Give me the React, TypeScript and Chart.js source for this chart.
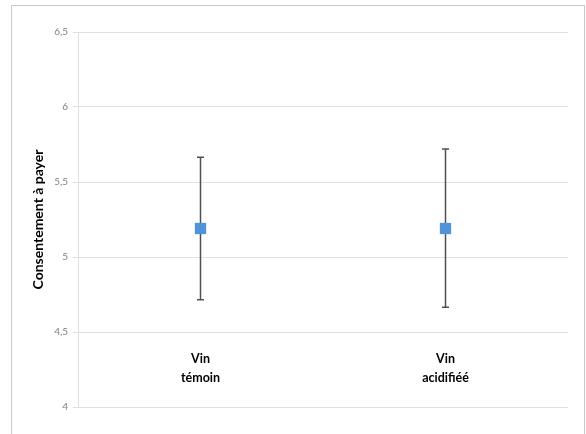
import React, { useEffect, useRef } from "react";
import { Chart, registerables } from "chart.js";

Chart.register(...registerables);

const categories: string[][] = [["Vin", "témoin"], ["Vin", "acidifiéé"]];
const means: number[] = [5.19, 5.19];
const upper: number[] = [5.665, 5.72];
const lower: number[] = [4.715, 4.665];
const yTicks: number[] = [4, 4.5, 5, 5.5, 6, 6.5];
const yTitle = "Consentement à payer";

const errorBars = {
  id: "errorBars",
  beforeDatasetsDraw(chart: any) {
    const ctx = chart.ctx;
    const xs = chart.scales.x;
    const ys = chart.scales.y;
    ctx.save();
    ctx.strokeStyle = "#505050";
    ctx.lineWidth = 1.5;
    for (let i = 0; i < means.length; i++) {
      const x = xs.getPixelForValue(i);
      const yt = ys.getPixelForValue(upper[i]);
      const yb = ys.getPixelForValue(lower[i]);
      ctx.beginPath();
      ctx.moveTo(x, yt);
      ctx.lineTo(x, yb);
      ctx.moveTo(x - 3.5, yt);
      ctx.lineTo(x + 3.5, yt);
      ctx.moveTo(x - 3.5, yb);
      ctx.lineTo(x + 3.5, yb);
      ctx.stroke();
    }
    ctx.restore();
  },
};

export default function App() {
  const ref = useRef<HTMLCanvasElement>(null);
  useEffect(() => {
    if (!ref.current) return;
    const chart = new Chart(ref.current, {
      type: "line",
      data: {
        labels: categories as any,
        datasets: [
          {
            data: means,
            showLine: false,
            pointStyle: "rect",
            pointRadius: 8,
            pointBackgroundColor: "#4F94D8",
            pointBorderColor: "#4F94D8",
            pointBorderWidth: 0,
          },
        ],
      },
      options: {
        responsive: false,
        animation: false,
        events: [],
        layout: { padding: { left: 0, top: 32, right: 18, bottom: 27 } },
        plugins: { legend: { display: false }, tooltip: { enabled: false } },
        scales: {
          x: {
            type: "category",
            offset: true,
            position: { y: 4.5 } as any,
            grid: { display: false, drawTicks: false },
            border: { display: false },
            ticks: {
              padding: 18,
              color: "#000000",
              font: { family: "Lato", size: 12.5, weight: "bold", lineHeight: 1.5 },
              maxRotation: 0,
            },
          },
          y: {
            min: 4,
            max: 6.5,
            afterFit(scale: any) {
              scale.width = 78;
            },
            afterBuildTicks(scale: any) {
              scale.ticks = yTicks.map((v) => ({ value: v }));
            },
            grid: { color: "#e0e0e0", tickLength: 5, lineWidth: 1 },
            border: { display: true, color: "#e0e0e0" },
            ticks: {
              padding: 5,
              color: "#7f7f7f",
              font: { family: "Lato", size: 10 },
              callback: (v: any) => String(v).replace(".", ","),
            },
            title: {
              display: true,
              text: yTitle,
              color: "#000000",
              font: { family: "Lato", size: 14, weight: "bold" },
              padding: { top: 30, bottom: 0 },
            },
          },
        },
      },
      plugins: [errorBars],
    });
    return () => chart.destroy();
  }, []);
  return (
    <div style={{ position: "fixed", left: 0, top: 0, width: 586, height: 434, background: "#fff", overflow: "hidden" }}>
      <div
        style={{
          position: "absolute",
          left: 11,
          top: 5,
          width: 572,
          height: 460,
          border: "1.5px solid #c8c8c8",
        }}
      />
      <canvas ref={ref} width={586} height={434} style={{ position: "absolute", left: 0, top: 0 }} />
    </div>
  );
}
